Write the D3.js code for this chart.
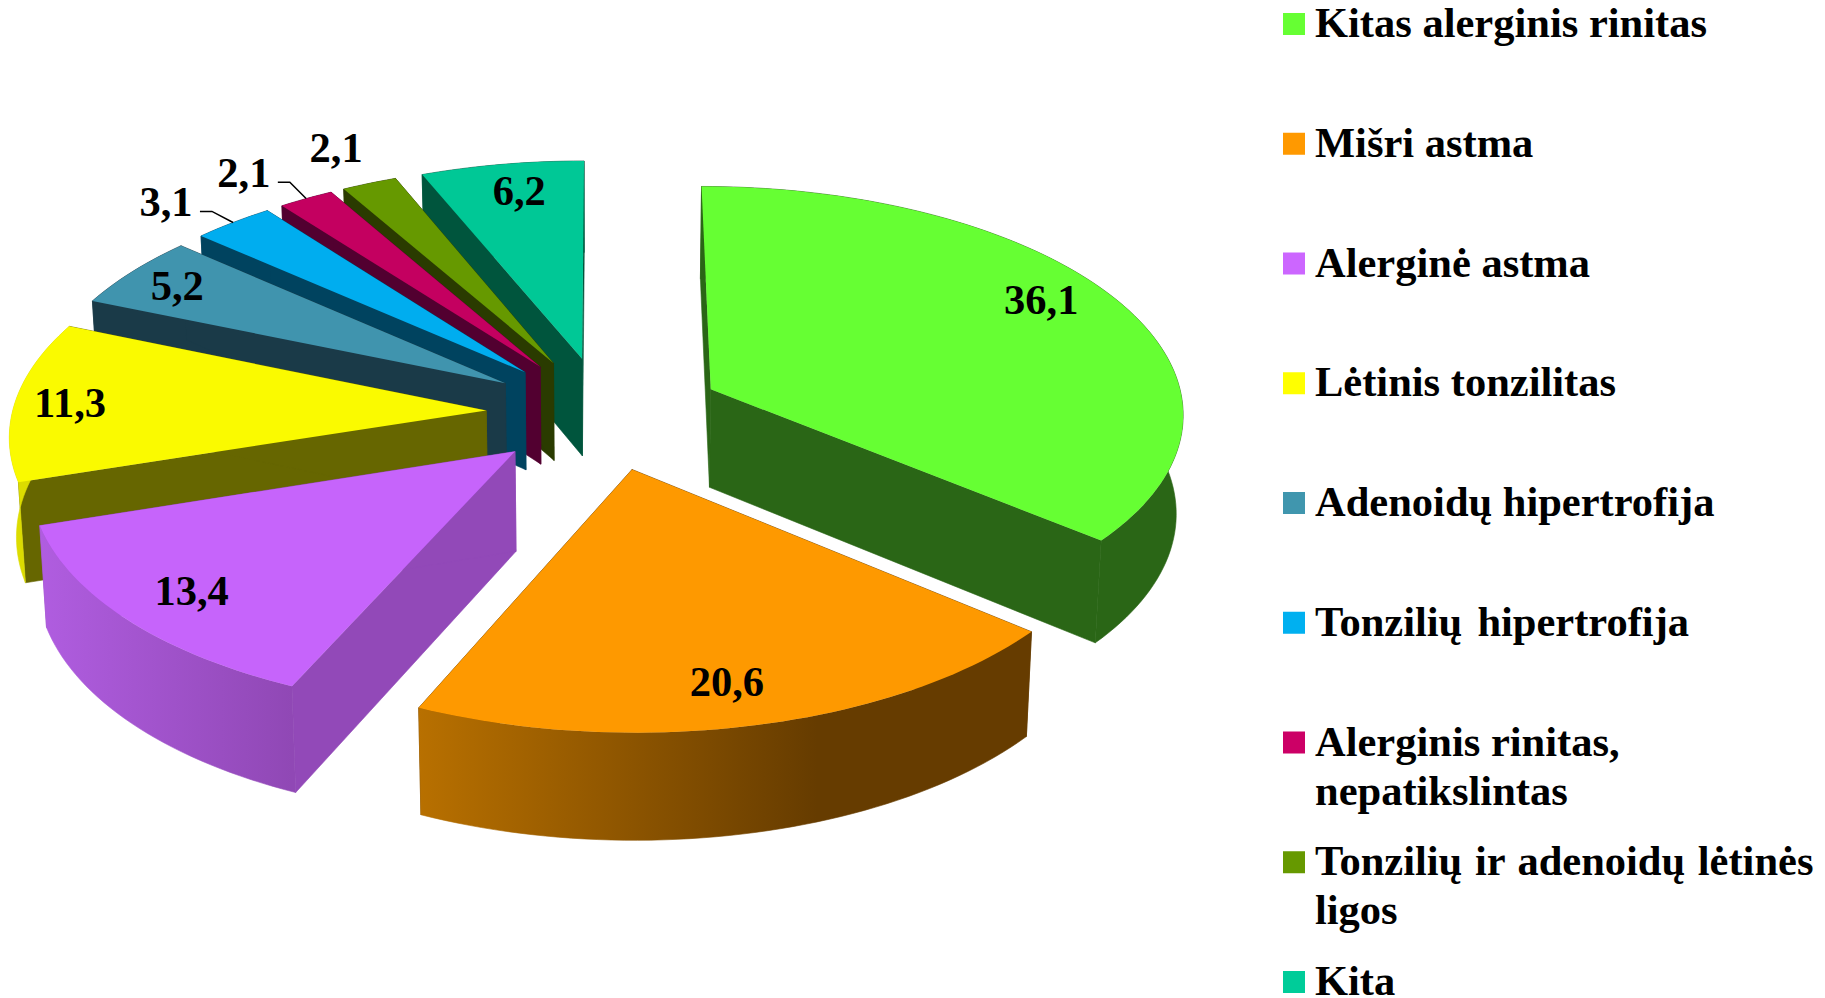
<!DOCTYPE html>
<html>
<head>
<meta charset="utf-8">
<script src="https://d3js.org/d3.v7.min.js"></script>
<style>
  body { margin: 0; background: #fff; }
  text { font-family: "Liberation Serif", serif; font-weight: bold; fill: #000; }
</style>
</head>
<body>
<svg id="chart" width="1825" height="998"></svg>
<script>
const categories = [
  ['Kitas alerginis rinitas'],
  ['Mišri astma'],
  ['Alerginė astma'],
  ['Lėtinis tonzilitas'],
  ['Adenoidų hipertrofija'],
  ['Tonzilių hipertrofija'],
  ['Alerginis rinitas,', 'nepatikslintas'],
  ['Tonzilių ir adenoidų lėtinės', 'ligos'],
  ['Kita'],
];
const values = [36.1, 20.6, 13.4, 11.3, 5.2, 3.1, 2.1, 2.1, 6.2];

// colours: legend swatch, top face, cut faces, rim (left and right end of the gradient)
const legendColors = ['#66ff33', '#ff9900', '#cc66ff', '#ffff00', '#4096ae', '#00b0f0', '#cc0066', '#669900', '#00cc99'];
const topColors = ['#66ff33', '#fe9900', '#c664fb', '#fafa00', '#4094ae', '#00adef', '#c40060', '#669900', '#00c896'];
const sideColors = ['#2a6616', '#663c00', '#9249b8', '#666600', '#1a3a48', '#00435f', '#520030', '#2a3b00', '#00553d'];
const rimFrom = ['#2a6616', '#b87000', '#b05de0', '#dcdc00', '#1a3a48', '#00435f', '#520030', '#2a3b00', '#00553d'];
const rimTo = ['#2a6616', '#663c00', '#9048b5', '#dcdc00', '#1a3a48', '#00435f', '#520030', '#2a3b00', '#00553d'];
const rimStop = [1, 0.65, 1, 1, 1, 1, 1, 1, 1];

// value labels sit on the slice: radius as part of the pie radius, angle shift from the middle of the slice,
// then a small nudge in pixels
const labelRadius = [0.85, 0.845, 0.845, 0.89, 0.88, 1.19, 1.215, 1.22, 0.85];
const labelShift = [-4, 1.3, 0, -0.5, -1, -3, -3.4, -0.3, 0.5];
const labelDx = [-1, 1, 2, 3.5, 6, 5, 10, 6, 3];
const labelDy = [-1, -1, 0, -1, -1, -2, 0, 0, 0];
const hasLeader = [false, false, false, false, false, true, true, false, false];

// legend lines that are set a little wider
const wordGap = [0, 0, 0, 0, 0, 4.5, 0, 2, 0];

// painter order, far slices first
const drawOrder = [8, 7, 6, 5, 4, 3, 2, 0, 1];

const center = { x: 604.5, y: 413 };
const explode = 0.25;
const view = { a: 474, b: 226.5, k: 0.0956 };
const drop = { shrink: 0.988, stretch: 1.028, depth: 98.7 };

const svg = d3.select('#chart');
const defs = svg.append('defs');

const arcs = d3.pie().sort(null).startAngle(0).endAngle(2 * Math.PI)(values);
const line = d3.line().x((p) => p.x).y((p) => p.y);

function project(wx, wy, low) {
  const w = 1 + view.k * wy;
  const sx = (view.a * wx) / w;
  const sy = (-view.b * wy) / w;
  if (!low) return { x: center.x + sx, y: center.y + sy };
  return {
    x: center.x + sx * drop.shrink,
    y: center.y + sy * drop.stretch + drop.depth,
  };
}

function slicePoint(d, angle, r, low) {
  const mid = (d.startAngle + d.endAngle) / 2;
  const wx = explode * Math.sin(mid) + r * Math.sin(angle);
  const wy = explode * Math.cos(mid) + r * Math.cos(angle);
  return project(wx, wy, low);
}

function rimPoints(d, low) {
  const steps = Math.max(6, Math.ceil((d.endAngle - d.startAngle) * 40));
  return d3.range(steps + 1).map((s) => {
    const t = d.startAngle + ((d.endAngle - d.startAngle) * s) / steps;
    return slicePoint(d, t, 1, low);
  });
}

function drawSlice(d, i) {
  const g = svg.append('g').attr('class', 'slice');
  const top = rimPoints(d, false);
  const bottom = rimPoints(d, true);
  const apex = slicePoint(d, 0, 0, false);
  const apexLow = slicePoint(d, 0, 0, true);

  // cut faces
  [[top[0], bottom[0]], [top[top.length - 1], bottom[bottom.length - 1]]].forEach((edge) => {
    g.append('path')
      .attr('d', line([apex, edge[0], edge[1], apexLow]) + 'Z')
      .attr('fill', sideColors[i])
      .attr('stroke', sideColors[i])
      .attr('stroke-width', 0.6);
  });

  // rim, shaded from left to right
  const xs = top.map((p) => p.x);
  const x0 = d3.min(xs);
  const x1 = d3.max(xs);
  const id = `rim-${i}`;
  const grad = defs.append('linearGradient')
    .attr('id', id)
    .attr('gradientUnits', 'userSpaceOnUse')
    .attr('x1', x0).attr('y1', 0)
    .attr('x2', x1).attr('y2', 0);
  grad.append('stop').attr('offset', 0).attr('stop-color', rimFrom[i]);
  grad.append('stop').attr('offset', rimStop[i]).attr('stop-color', rimTo[i]);
  g.append('path')
    .attr('d', line(top.concat(bottom.slice().reverse())) + 'Z')
    .attr('fill', `url(#${id})`)
    .attr('stroke', `url(#${id})`)
    .attr('stroke-width', 0.6);

  // top face
  g.append('path')
    .attr('d', line([apex].concat(top)) + 'Z')
    .attr('fill', topColors[i]);
}

drawOrder.forEach((i) => drawSlice(arcs[i], i));

// value labels
arcs.forEach((d, i) => {
  const mid = (d.startAngle + d.endAngle) / 2;
  const pos = slicePoint(d, mid + (labelShift[i] * Math.PI) / 180, labelRadius[i], false);
  pos.x += labelDx[i];
  pos.y += labelDy[i];
  svg.append('text')
    .attr('class', 'value-label')
    .attr('x', pos.x)
    .attr('y', pos.y)
    .attr('dy', '0.33em')
    .attr('text-anchor', 'middle')
    .attr('font-size', 42.5)
    .text(d3.format('.1f')(values[i]).replace('.', ','));
  if (hasLeader[i]) {
    const rim = slicePoint(d, mid, 1, false);
    svg.append('path')
      .attr('d', line([
        { x: pos.x + 34, y: pos.y + 9 },
        { x: pos.x + 46, y: pos.y + 9 },
        rim,
      ]))
      .attr('fill', 'none')
      .attr('stroke', '#000')
      .attr('stroke-width', 1.5);
  }
});

// legend
const legendY = d3.scalePoint()
  .domain(d3.range(categories.length))
  .range([24, 982]);
const legend = svg.append('g').attr('class', 'legend');
categories.forEach((lines, i) => {
  const y = legendY(i);
  legend.append('rect')
    .attr('x', 1283)
    .attr('y', y - 11)
    .attr('width', 22)
    .attr('height', 22)
    .attr('fill', legendColors[i]);
  lines.forEach((txt, n) => {
    legend.append('text')
      .attr('x', 1315)
      .attr('y', y + 13 + n * 49)
      .attr('font-size', 42.5)
      .attr('word-spacing', wordGap[i])
      .text(txt);
  });
});
</script>
</body>
</html>
